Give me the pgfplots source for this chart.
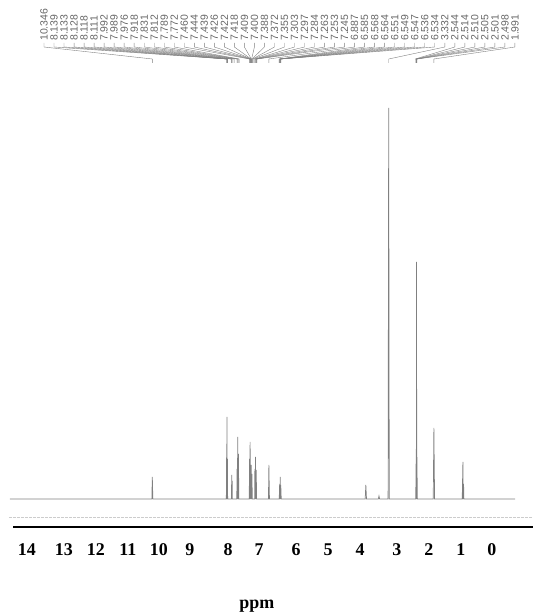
\documentclass[border=0pt]{standalone}
\usepackage{fontspec}
\setmainfont{Liberation Serif}
\newfontfamily\peakfont{Liberation Sans}
\usepackage{pgfplots}
\pgfplotsset{compat=1.18}

\begin{document}
\begin{tikzpicture}
\useasboundingbox (-13bp,-85bp) rectangle (520bp,527bp);
\begin{axis}[
  name=spec,
  scale only axis,
  width=520bp, height=527bp,
  x dir=reverse,
  xmin=-0.95, xmax=14.48,
  ymin=-28, ymax=499,
  axis x line*=bottom,
  hide y axis,
  x axis line style={-, black, line width=1.4bp},
  major tick length=0pt,
  clip=false,
  xtick={14.07,12.97,12.02,11.07,10.15,9.23,8.10,7.18,6.08,5.13,4.18,3.09,2.14,1.19,0.27},
  xticklabels={14,13,12,11,10,9,8,7,6,5,4,3,2,1,0},
  /pgf/number format/assume math mode=true,
  xticklabel style={font=\bfseries\fontsize{18}{18}\selectfont, yshift=-13bp},
  xlabel={ppm},
  xlabel style={font=\bfseries\fontsize{18}{18}\selectfont, at={(axis description cs:0.469,0)}, anchor=base, yshift=-81bp},
]
% faint ruler line of the pasted spectrum
\draw[black!20, line width=0.8bp, dash pattern=on 3bp off 1bp] (axis cs:14.6,-18) -- (axis cs:-0.95,-18);

\addplot[black!50, line width=0.7bp] coordinates {
  (14.57,0) (10.36,0) (10.346,22) (10.33,0)
  (8.15,0) (8.139,55) (8.134,0) (8.128,82) (8.123,0) (8.118,40) (8.11,0)
  (8.00,0) (7.989,24) (7.983,0) (7.976,18) (7.97,0)
  (7.84,0) (7.831,30) (7.822,0) (7.812,62) (7.800,0) (7.789,45) (7.78,0)
  (7.47,0) (7.460,40) (7.452,0) (7.444,57) (7.435,0) (7.426,30) (7.418,0)
  (7.409,34) (7.398,0) (7.388,25) (7.38,0)
  (7.31,0) (7.303,30) (7.293,0) (7.284,42) (7.273,0) (7.263,29) (7.25,0)
  (6.90,0) (6.887,34) (6.87,0)
  (6.58,0) (6.568,15) (6.560,0) (6.551,22) (6.543,0) (6.534,14) (6.52,0)
  (4.03,0) (4.01,14) (3.99,0)
  (3.64,0) (3.62,3) (3.60,0)
  (3.35,0) (3.332,391) (3.315,0)
  (2.53,0) (2.514,50) (2.512,0) (2.510,110) (2.507,0) (2.505,237) (2.503,0)
  (2.501,110) (2.499,0) (2.498,50) (2.48,0)
  (2.01,0) (1.991,71) (1.97,0)
  (1.15,0) (1.13,37) (1.12,0) (1.11,15) (1.10,0)
  (-0.42,0)
};
\end{axis}

% peak labels with their connector lines
\begin{scope}[shift={(spec.south west)}, x=1bp, y=1bp]
\foreach \v [count=\i from 0] in {10.346,8.139,8.133,8.128,8.118,8.111,7.992,7.989,7.976,7.918,
  7.831,7.812,7.789,7.772,7.460,7.444,7.439,7.426,7.422,7.418,7.409,7.400,7.388,7.372,7.355,
  7.303,7.297,7.284,7.263,7.253,7.245,6.887,6.585,6.568,6.564,6.551,6.549,6.547,6.536,6.534,
  3.332,2.544,2.514,2.510,2.505,2.501,2.498,1.991} {
  \pgfmathsetmacro\lx{31+\i*10.02}
  \pgfmathsetmacro\px{488-33.7*\v}
  \node[rotate=90, anchor=west, inner sep=0pt, text=black!60,
        font=\peakfont\fontsize{10.5}{10.5}\selectfont] at (\lx,486) {\v};
  \draw[black!50, line width=0.4bp] (\lx,484) -- (\lx,480) -- (\px,468) -- (\px,464);
}
\end{scope}
\end{tikzpicture}
\end{document}
